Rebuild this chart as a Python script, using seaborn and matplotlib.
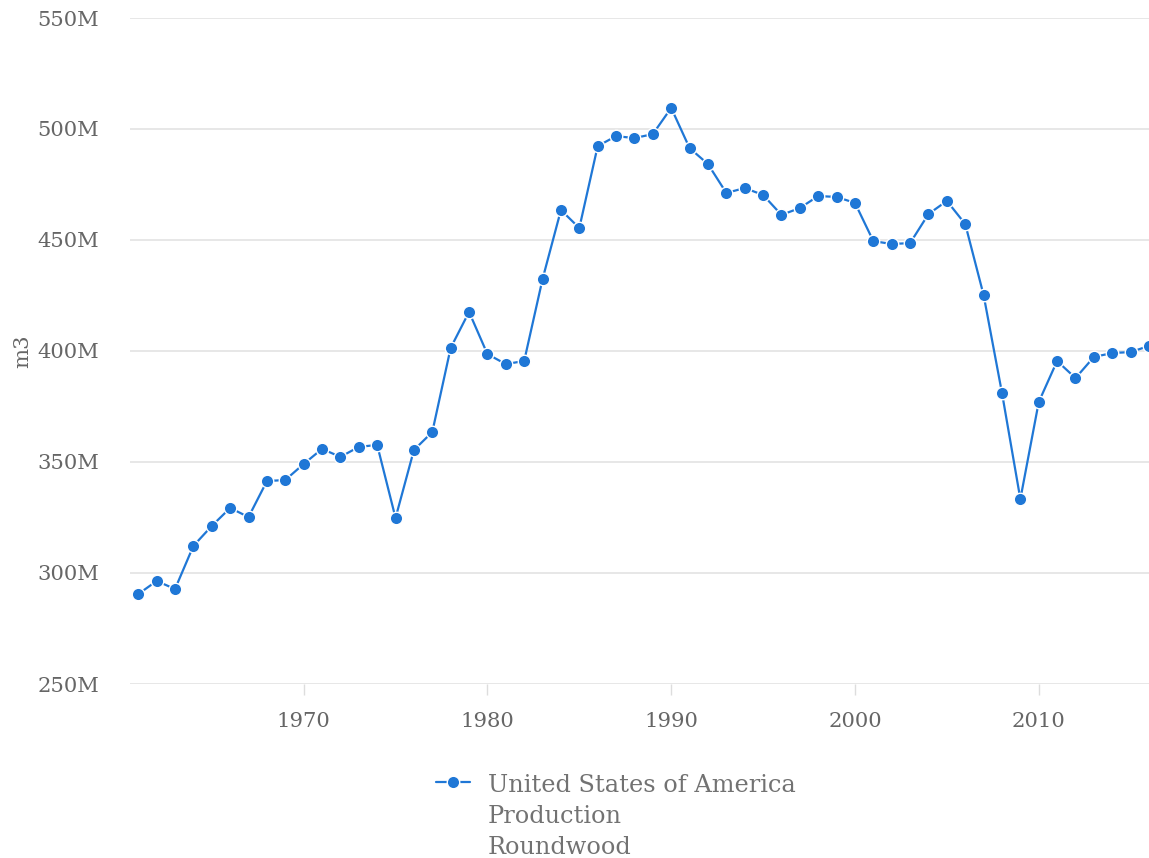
import matplotlib
matplotlib.use('Agg')
import matplotlib.pyplot as plt
import seaborn as sns
import pandas as pd
from matplotlib.ticker import FuncFormatter, MultipleLocator

# Producao de madeira em tora (m3, em milhoes)
anos = list(range(1961, 2017))
producao = [290.5, 296.4, 292.8, 312.2, 321.2, 329.3, 325.2, 341.4, 341.9, 349.1,
            355.9, 352.3, 356.8, 357.7, 324.8, 355.4, 363.5, 401.4, 417.6, 398.6,
            394.1, 395.5, 432.4, 463.5, 455.4, 492.3, 496.8, 495.9, 497.7, 509.5,
            491.4, 484.2, 471.2, 473.4, 470.3, 461.3, 464.4, 469.8, 469.4, 466.7,
            449.5, 448.2, 448.6, 461.7, 467.6, 457.2, 425.2, 381.1, 333.3, 377.0,
            395.5, 387.8, 397.3, 399.1, 399.5, 402.3]
serie = 'United States of America\nProduction\nRoundwood'

df = pd.DataFrame({'Ano': anos, 'Producao': producao})

sns.set_theme(style='white')
plt.rcParams['font.family'] = ['DejaVu Serif']

cinza = '#666666'
azul = '#1f77d6'

fig = plt.figure(figsize=(11.49, 8.58), dpi=100)
ax = fig.add_axes([130/1149, 1 - 684/858, 1 - 130/1149, (684 - 18)/858])

sns.lineplot(data=df, x='Ano', y='Producao', ax=ax, color=azul, linewidth=1.6,
             marker='o', markersize=9, markeredgecolor='white', markeredgewidth=1,
             label=serie)

ax.set_xlim(1960.55, 2016)
ax.set_ylim(250, 550)
ax.yaxis.set_major_locator(MultipleLocator(50))
ax.yaxis.set_major_formatter(FuncFormatter(lambda v, p: f'{v:.0f}M'))
ax.set_xticks([1970, 1980, 1990, 2000, 2010])

ax.grid(axis='y', color='#e3e3e3', linewidth=1.2)
ax.grid(axis='x', visible=False)
for s in ax.spines.values():
    s.set_visible(False)

ax.tick_params(axis='y', length=0, pad=22, labelsize=15.2, labelcolor=cinza)
ax.tick_params(axis='x', bottom=True, length=8, width=1, color='#dddddd', pad=12,
               labelsize=15.2, labelcolor=cinza)

ax.set_xlabel('')
ax.set_ylabel('m3', fontsize=15.2, color=cinza)
ax.yaxis.set_label_coords(-98/1019, 0.5)

ax.get_legend().remove()
h, l = ax.get_legend_handles_labels()
leg = fig.legend(h, l, loc='upper left', bbox_to_anchor=(424/1149, 1 - 762/858),
                 frameon=False, fontsize=17.3, labelcolor='#727272', handlelength=1.4,
                 handletextpad=0.75, borderpad=0)
for t in leg.get_texts():
    t.set_linespacing(1.45)
# alinhar o marcador com a primeira linha do texto
for coluna in leg._legend_handle_box.get_children():
    for item in coluna.get_children():
        item.align = 'top'

fig.savefig('out.png', dpi=100)
